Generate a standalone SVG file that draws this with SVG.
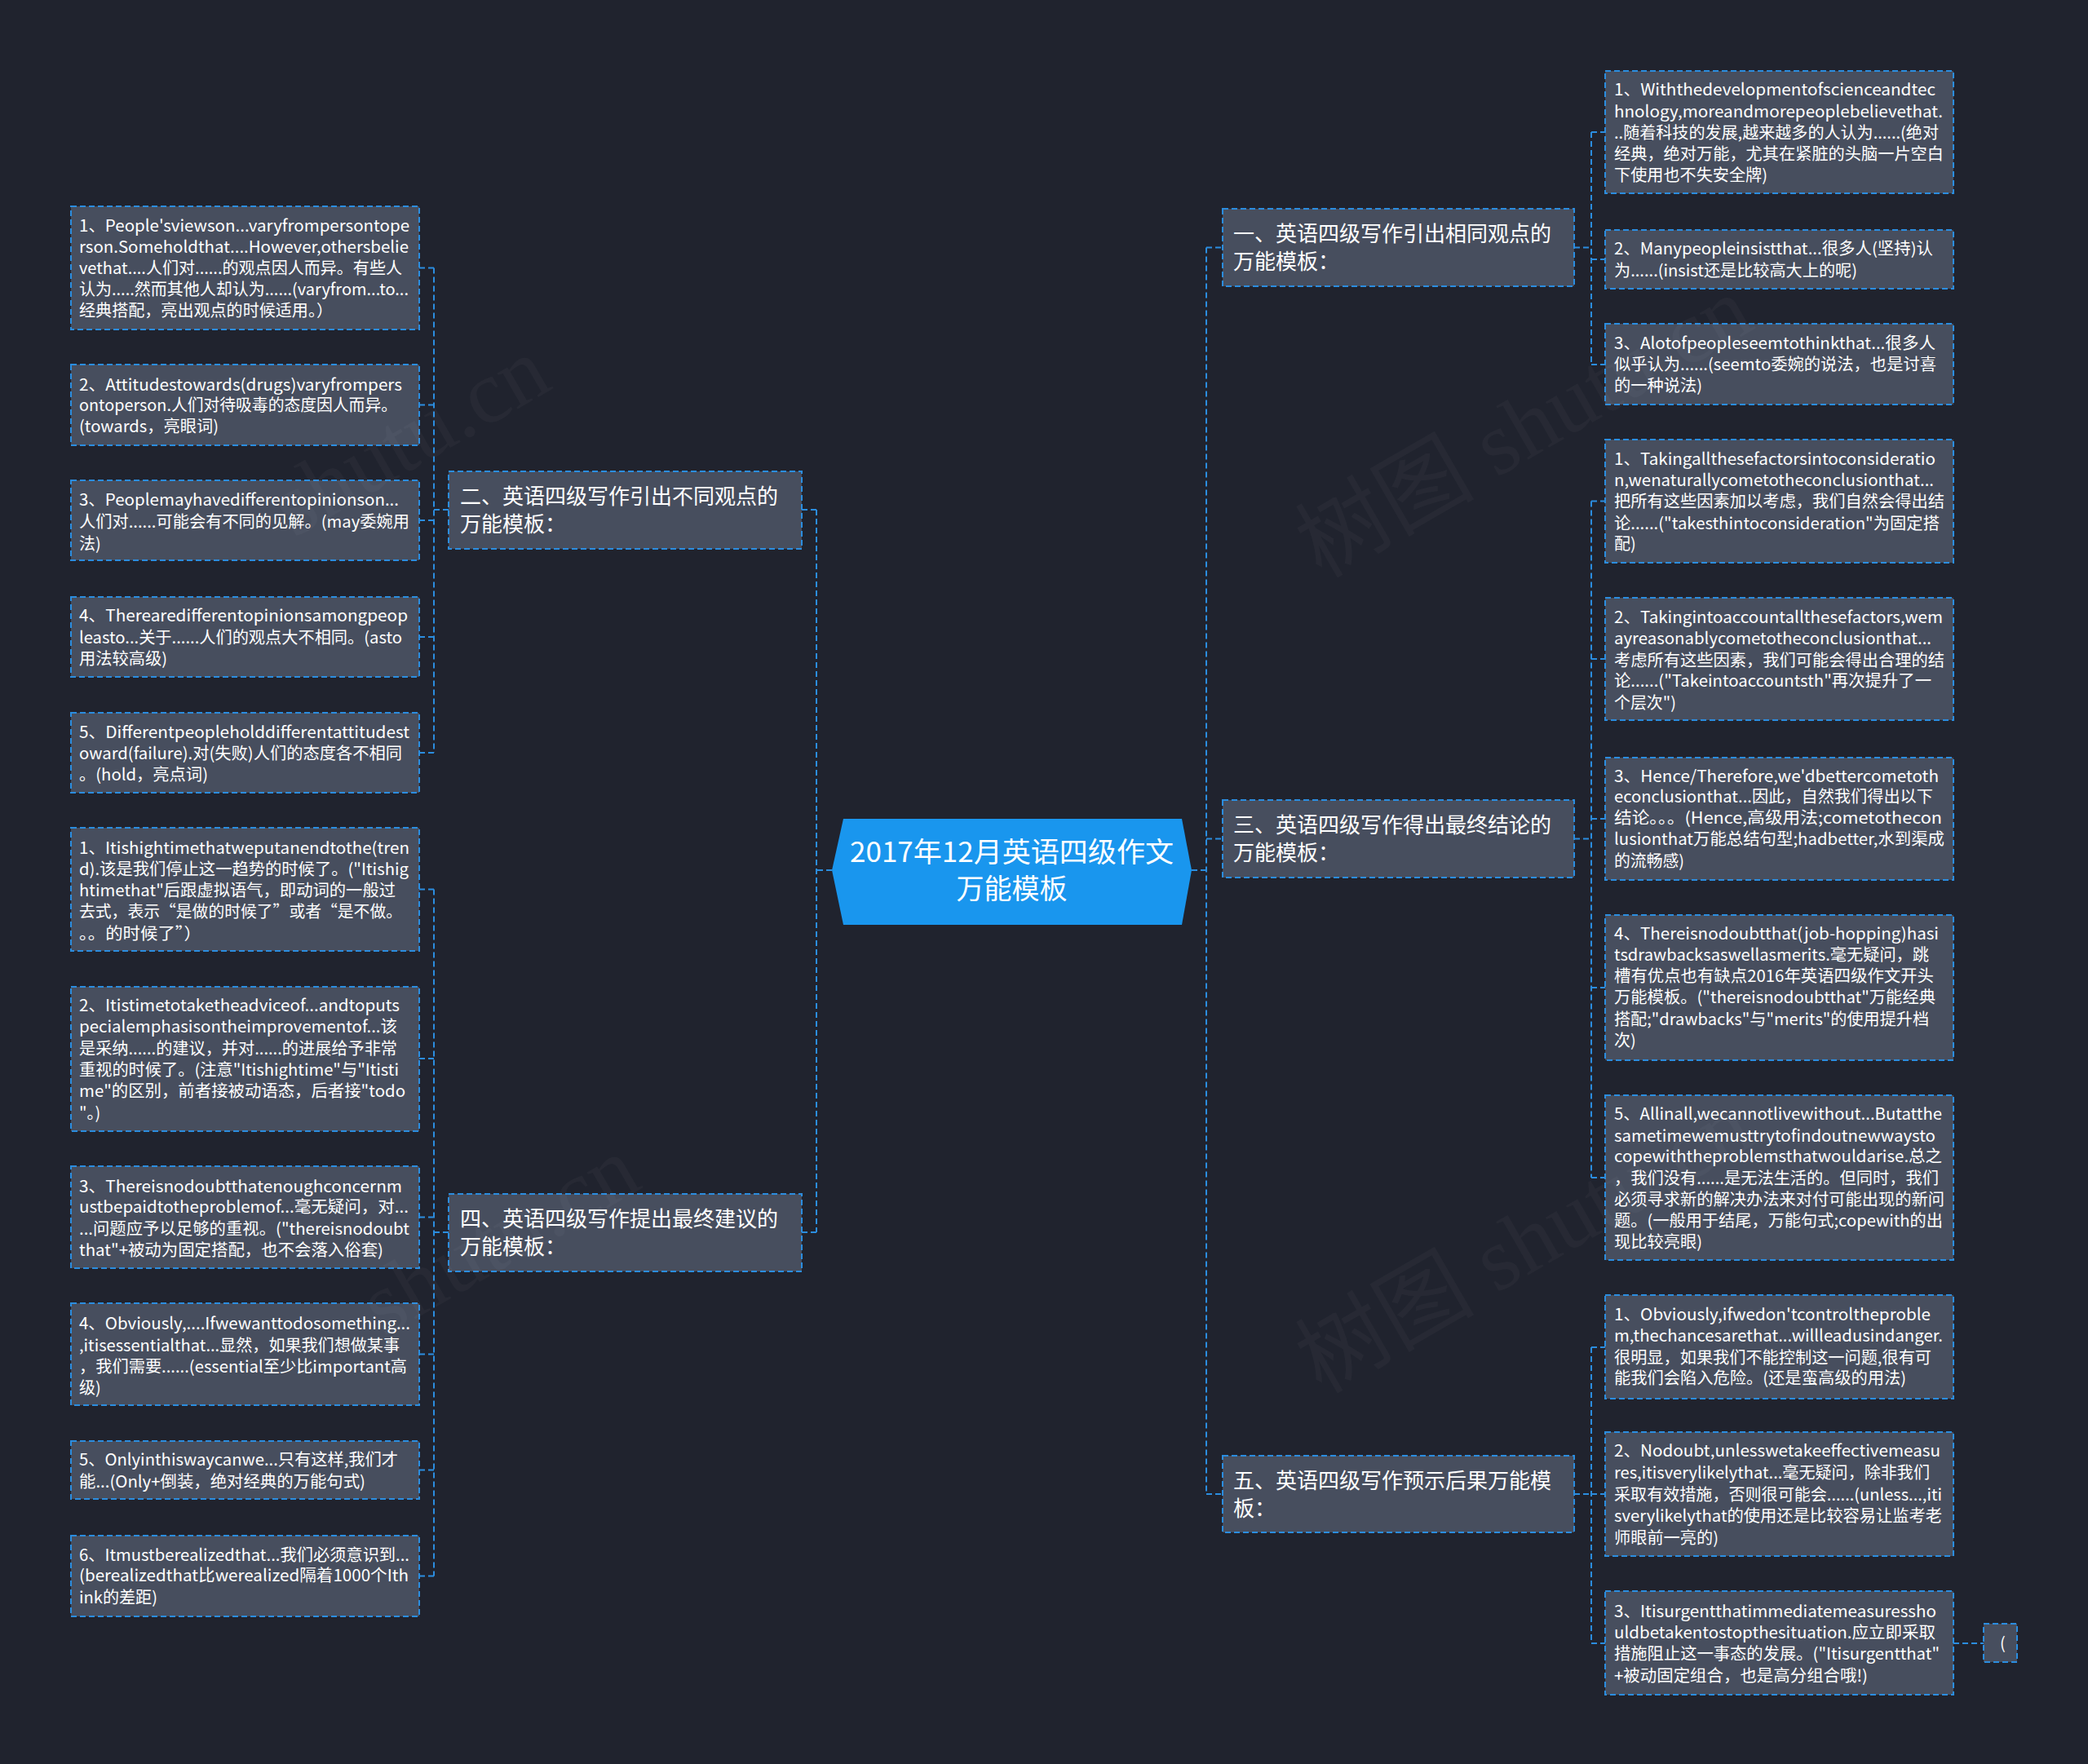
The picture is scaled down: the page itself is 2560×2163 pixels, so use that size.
<svg xmlns="http://www.w3.org/2000/svg" width="2560" height="2163" viewBox="0 0 2560 2163">
<style>
.bg{fill:#20232e}
.box{fill:#474e5e;stroke:#2b8ddf;stroke-width:2;stroke-dasharray:7 4}
.t{fill:#ffffff;font-family:"Microsoft YaHei","Noto Sans CJK SC","Noto Sans",sans-serif;font-size:20px}
.t1{fill:#ffffff;font-family:"Microsoft YaHei","Noto Sans CJK SC","Noto Sans",sans-serif;font-size:26px}
.tc{fill:#ffffff;font-family:"Microsoft YaHei","Noto Sans CJK SC","Noto Sans",sans-serif;font-size:34px;text-anchor:middle}
.conn{fill:none;stroke:#2b8ddf;stroke-width:2;stroke-dasharray:7 4}
.wm{fill:#ffffff;fill-opacity:0.03;font-family:"Liberation Serif","Noto Sans CJK SC",serif;font-size:110px}
</style>
<rect class="bg" x="0" y="0" width="2560" height="2163"/>

<g id="connectors">
  <path class="conn" d="M1020,1067 H1001 M1001,625 V1511 M983,625 H1001 M983,1511 H1001"/>
  <path class="conn" d="M1461,1067 H1479 M1479,303.5 V1832 M1479,303.5 H1499 M1479,1028.5 H1499 M1479,1832 H1499"/>
  <path class="conn" d="M550,625 H532 M532,328.5 V923 M532,328.5 H514 M532,496.5 H514 M532,638 H514 M532,781 H514 M532,923 H514"/>
  <path class="conn" d="M550,1511 H532 M532,1090.5 V1932.5 M532,1090.5 H514 M532,1298 H514 M532,1492.5 H514 M532,1660.5 H514 M532,1802.5 H514 M532,1932.5 H514"/>
  <path class="conn" d="M1930,303.5 H1951 M1951,162 V447 M1951,162 H1968 M1951,318 H1968 M1951,447 H1968"/>
  <path class="conn" d="M1930,1028.5 H1951 M1951,614.5 V1444 M1951,614.5 H1968 M1951,808 H1968 M1951,1004 H1968 M1951,1211 H1968 M1951,1444 H1968"/>
  <path class="conn" d="M1930,1832 H1951 M1951,1652 V2015 M1951,1652 H1968 M1951,1832 H1968 M1951,2015 H1968"/>
  <path class="conn" d="M2395,2015 H2432"/>
</g>

<g id="root">
  <polygon points="1020,1067 1034,1004 1449,1004 1461,1067 1449,1134 1034,1134" fill="#1996ee"/>
  <text class="tc" x="1240.5" y="1057" textLength="397" lengthAdjust="spacingAndGlyphs">2017年12月英语四级作文</text>
  <text class="tc" x="1240.5" y="1102">万能模板</text>
</g>

<g id="n1">
  <rect class="box" x="1499" y="256" width="431" height="95"/>
  <text class="t1" x="1512" y="296" textLength="390" lengthAdjust="spacingAndGlyphs">一、英语四级写作引出相同观点的</text>
  <text class="t1" x="1512" y="330">万能模板：</text>
</g>
<g id="n2">
  <rect class="box" x="550" y="578" width="433" height="95"/>
  <text class="t1" x="564" y="618" textLength="390" lengthAdjust="spacingAndGlyphs">二、英语四级写作引出不同观点的</text>
  <text class="t1" x="564" y="652">万能模板：</text>
</g>
<g id="n3">
  <rect class="box" x="1499" y="981" width="431" height="95"/>
  <text class="t1" x="1512" y="1021" textLength="390" lengthAdjust="spacingAndGlyphs">三、英语四级写作得出最终结论的</text>
  <text class="t1" x="1512" y="1055">万能模板：</text>
</g>
<g id="n4">
  <rect class="box" x="550" y="1464" width="433" height="95"/>
  <text class="t1" x="564" y="1504" textLength="390" lengthAdjust="spacingAndGlyphs">四、英语四级写作提出最终建议的</text>
  <text class="t1" x="564" y="1538">万能模板：</text>
</g>
<g id="n5">
  <rect class="box" x="1499" y="1785" width="431" height="94"/>
  <text class="t1" x="1512" y="1825" textLength="390" lengthAdjust="spacingAndGlyphs">五、英语四级写作预示后果万能模</text>
  <text class="t1" x="1512" y="1859">板：</text>
</g>

<g id="l1">
  <rect class="box" x="87" y="253" width="427" height="151"/>
  <text class="t" x="97" y="284" textLength="405" lengthAdjust="spacingAndGlyphs">1、People'sviewson...varyfrompersontope</text>
  <text class="t" x="97" y="310" textLength="404" lengthAdjust="spacingAndGlyphs">rson.Someholdthat....However,othersbelie</text>
  <text class="t" x="97" y="336" textLength="396" lengthAdjust="spacingAndGlyphs">vethat....人们对......的观点因人而异。有些人</text>
  <text class="t" x="97" y="362" textLength="404" lengthAdjust="spacingAndGlyphs">认为.....然而其他人却认为......(varyfrom...to...</text>
  <text class="t" x="97" y="388" textLength="311" lengthAdjust="spacingAndGlyphs">经典搭配，亮出观点的时候适用。）</text>
</g>
<g id="l2">
  <rect class="box" x="87" y="447" width="427" height="99"/>
  <text class="t" x="97" y="479" textLength="396" lengthAdjust="spacingAndGlyphs">2、Attitudestowards(drugs)varyfrompers</text>
  <text class="t" x="97" y="504" textLength="390" lengthAdjust="spacingAndGlyphs">ontoperson.人们对待吸毒的态度因人而异。</text>
  <text class="t" x="97" y="530" textLength="171" lengthAdjust="spacingAndGlyphs">(towards，亮眼词)</text>
</g>
<g id="l3">
  <rect class="box" x="87" y="589" width="427" height="98"/>
  <text class="t" x="97" y="620" textLength="392" lengthAdjust="spacingAndGlyphs">3、Peoplemayhavedifferentopinionson...</text>
  <text class="t" x="97" y="647" textLength="405" lengthAdjust="spacingAndGlyphs">人们对......可能会有不同的见解。(may委婉用</text>
  <text class="t" x="97" y="674">法)</text>
</g>
<g id="l4">
  <rect class="box" x="87" y="732" width="427" height="98"/>
  <text class="t" x="97" y="762" textLength="403" lengthAdjust="spacingAndGlyphs">4、Therearedifferentopinionsamongpeop</text>
  <text class="t" x="97" y="789" textLength="396" lengthAdjust="spacingAndGlyphs">leasto...关于......人们的观点大不相同。(asto</text>
  <text class="t" x="97" y="815" textLength="108" lengthAdjust="spacingAndGlyphs">用法较高级)</text>
</g>
<g id="l5">
  <rect class="box" x="87" y="874" width="427" height="98"/>
  <text class="t" x="97" y="905" textLength="405" lengthAdjust="spacingAndGlyphs">5、Differentpeopleholddifferentattitudest</text>
  <text class="t" x="97" y="931" textLength="396" lengthAdjust="spacingAndGlyphs">oward(failure).对(失败)人们的态度各不相同</text>
  <text class="t" x="97" y="957" textLength="158" lengthAdjust="spacingAndGlyphs">。(hold，亮点词)</text>
</g>
<g id="l6">
  <rect class="box" x="87" y="1015" width="427" height="151"/>
  <text class="t" x="97" y="1047" textLength="405" lengthAdjust="spacingAndGlyphs">1、Itishightimethatweputanendtothe(tren</text>
  <text class="t" x="97" y="1073" textLength="404" lengthAdjust="spacingAndGlyphs">d).该是我们停止这一趋势的时候了。("Itishig</text>
  <text class="t" x="97" y="1099" textLength="388" lengthAdjust="spacingAndGlyphs">htimethat"后跟虚拟语气，即动词的一般过</text>
  <text class="t" x="97" y="1125" textLength="396" lengthAdjust="spacingAndGlyphs">去式，表示“是做的时候了”或者“是不做。</text>
  <text class="t" x="97" y="1152" textLength="150" lengthAdjust="spacingAndGlyphs">。。的时候了”）</text>
</g>
<g id="l7">
  <rect class="box" x="87" y="1210" width="427" height="177"/>
  <text class="t" x="97" y="1240" textLength="393" lengthAdjust="spacingAndGlyphs">2、Itistimetotaketheadviceof...andtoputs</text>
  <text class="t" x="97" y="1266" textLength="390" lengthAdjust="spacingAndGlyphs">pecialemphasisontheimprovementof...该</text>
  <text class="t" x="97" y="1293" textLength="390" lengthAdjust="spacingAndGlyphs">是采纳......的建议，并对......的进展给予非常</text>
  <text class="t" x="97" y="1319" textLength="392" lengthAdjust="spacingAndGlyphs">重视的时候了。(注意"Itishightime"与"Itisti</text>
  <text class="t" x="97" y="1345" textLength="400" lengthAdjust="spacingAndGlyphs">me"的区别，前者接被动语态，后者接"todo</text>
  <text class="t" x="97" y="1372">"。)</text>
</g>
<g id="l8">
  <rect class="box" x="87" y="1430" width="427" height="125"/>
  <text class="t" x="97" y="1462" textLength="396" lengthAdjust="spacingAndGlyphs">3、Thereisnodoubtthatenoughconcernm</text>
  <text class="t" x="97" y="1487" textLength="404" lengthAdjust="spacingAndGlyphs">ustbepaidtotheproblemof...毫无疑问，对...</text>
  <text class="t" x="97" y="1514" textLength="405" lengthAdjust="spacingAndGlyphs">...问题应予以足够的重视。("thereisnodoubt</text>
  <text class="t" x="97" y="1540" textLength="373" lengthAdjust="spacingAndGlyphs">that"+被动为固定搭配，也不会落入俗套)</text>
</g>
<g id="l9">
  <rect class="box" x="87" y="1598" width="427" height="125"/>
  <text class="t" x="97" y="1630" textLength="406" lengthAdjust="spacingAndGlyphs">4、Obviously,....Ifwewanttodosomething...</text>
  <text class="t" x="97" y="1657" textLength="393" lengthAdjust="spacingAndGlyphs">,itisessentialthat...显然，如果我们想做某事</text>
  <text class="t" x="97" y="1683" textLength="402" lengthAdjust="spacingAndGlyphs">，我们需要......(essential至少比important高</text>
  <text class="t" x="97" y="1709">级)</text>
</g>
<g id="l10">
  <rect class="box" x="87" y="1767" width="427" height="71"/>
  <text class="t" x="97" y="1797" textLength="391" lengthAdjust="spacingAndGlyphs">5、Onlyinthiswaycanwe...只有这样,我们才</text>
  <text class="t" x="97" y="1824" textLength="351" lengthAdjust="spacingAndGlyphs">能...(Only+倒装，绝对经典的万能句式)</text>
</g>
<g id="l11">
  <rect class="box" x="87" y="1883" width="427" height="99"/>
  <text class="t" x="97" y="1914" textLength="405" lengthAdjust="spacingAndGlyphs">6、Itmustberealizedthat...我们必须意识到...</text>
  <text class="t" x="97" y="1939" textLength="404" lengthAdjust="spacingAndGlyphs">(berealizedthat比werealized隔着1000个Ith</text>
  <text class="t" x="97" y="1966" textLength="96" lengthAdjust="spacingAndGlyphs">ink的差距)</text>
</g>

<g id="r1">
  <rect class="box" x="1968" y="87" width="427" height="150"/>
  <text class="t" x="1979" y="117" textLength="394" lengthAdjust="spacingAndGlyphs">1、Withthedevelopmentofscienceandtec</text>
  <text class="t" x="1979" y="144" textLength="403" lengthAdjust="spacingAndGlyphs">hnology,moreandmorepeoplebelievethat.</text>
  <text class="t" x="1979" y="170" textLength="398" lengthAdjust="spacingAndGlyphs">..随着科技的发展,越来越多的人认为......(绝对</text>
  <text class="t" x="1979" y="196" textLength="404" lengthAdjust="spacingAndGlyphs">经典，绝对万能，尤其在紧脏的头脑一片空白</text>
  <text class="t" x="1979" y="222" textLength="188" lengthAdjust="spacingAndGlyphs">下使用也不失安全牌)</text>
</g>
<g id="r2">
  <rect class="box" x="1968" y="282" width="427" height="72"/>
  <text class="t" x="1979" y="312" textLength="391" lengthAdjust="spacingAndGlyphs">2、Manypeopleinsistthat...很多人(坚持)认</text>
  <text class="t" x="1979" y="339" textLength="298" lengthAdjust="spacingAndGlyphs">为......(insist还是比较高大上的呢)</text>
</g>
<g id="r3">
  <rect class="box" x="1968" y="397" width="427" height="99"/>
  <text class="t" x="1979" y="428" textLength="394" lengthAdjust="spacingAndGlyphs">3、Alotofpeopleseemtothinkthat...很多人</text>
  <text class="t" x="1979" y="454" textLength="395" lengthAdjust="spacingAndGlyphs">似乎认为......(seemto委婉的说法，也是讨喜</text>
  <text class="t" x="1979" y="480" textLength="108" lengthAdjust="spacingAndGlyphs">的一种说法)</text>
</g>
<g id="r4">
  <rect class="box" x="1968" y="539" width="427" height="151"/>
  <text class="t" x="1979" y="570" textLength="394" lengthAdjust="spacingAndGlyphs">1、Takingallthesefactorsintoconsideratio</text>
  <text class="t" x="1979" y="596" textLength="392" lengthAdjust="spacingAndGlyphs">n,wenaturallycometotheconclusionthat...</text>
  <text class="t" x="1979" y="622" textLength="405" lengthAdjust="spacingAndGlyphs">把所有这些因素加以考虑，我们自然会得出结</text>
  <text class="t" x="1979" y="649" textLength="399" lengthAdjust="spacingAndGlyphs">论......("takesthintoconsideration"为固定搭</text>
  <text class="t" x="1979" y="674">配)</text>
</g>
<g id="r5">
  <rect class="box" x="1968" y="733" width="427" height="150"/>
  <text class="t" x="1979" y="764" textLength="403" lengthAdjust="spacingAndGlyphs">2、Takingintoaccountallthesefactors,wem</text>
  <text class="t" x="1979" y="790" textLength="389" lengthAdjust="spacingAndGlyphs">ayreasonablycometotheconclusionthat...</text>
  <text class="t" x="1979" y="817" textLength="405" lengthAdjust="spacingAndGlyphs">考虑所有这些因素，我们可能会得出合理的结</text>
  <text class="t" x="1979" y="842" textLength="389" lengthAdjust="spacingAndGlyphs">论......("Takeintoaccountsth"再次提升了一</text>
  <text class="t" x="1979" y="869" textLength="76" lengthAdjust="spacingAndGlyphs">个层次")</text>
</g>
<g id="r6">
  <rect class="box" x="1968" y="929" width="427" height="150"/>
  <text class="t" x="1979" y="959" textLength="398" lengthAdjust="spacingAndGlyphs">3、Hence/Therefore,we'dbettercometoth</text>
  <text class="t" x="1979" y="984" textLength="391" lengthAdjust="spacingAndGlyphs">econclusionthat...因此，自然我们得出以下</text>
  <text class="t" x="1979" y="1010" textLength="402" lengthAdjust="spacingAndGlyphs">结论。。。(Hence,高级用法;cometothecon</text>
  <text class="t" x="1979" y="1036" textLength="405" lengthAdjust="spacingAndGlyphs">lusionthat万能总结句型;hadbetter,水到渠成</text>
  <text class="t" x="1979" y="1063" textLength="86" lengthAdjust="spacingAndGlyphs">的流畅感)</text>
</g>
<g id="r7">
  <rect class="box" x="1968" y="1122" width="427" height="178"/>
  <text class="t" x="1979" y="1152" textLength="398" lengthAdjust="spacingAndGlyphs">4、Thereisnodoubtthat(job-hopping)hasi</text>
  <text class="t" x="1979" y="1178" textLength="386" lengthAdjust="spacingAndGlyphs">tsdrawbacksaswellasmerits.毫无疑问，跳</text>
  <text class="t" x="1979" y="1204" textLength="392" lengthAdjust="spacingAndGlyphs">槽有优点也有缺点2016年英语四级作文开头</text>
  <text class="t" x="1979" y="1230" textLength="394" lengthAdjust="spacingAndGlyphs">万能模板。("thereisnodoubtthat"万能经典</text>
  <text class="t" x="1979" y="1257" textLength="386" lengthAdjust="spacingAndGlyphs">搭配;"drawbacks"与"merits"的使用提升档</text>
  <text class="t" x="1979" y="1283">次)</text>
</g>
<g id="r8">
  <rect class="box" x="1968" y="1343" width="427" height="202"/>
  <text class="t" x="1979" y="1373" textLength="402" lengthAdjust="spacingAndGlyphs">5、Allinall,wecannotlivewithout...Butatthe</text>
  <text class="t" x="1979" y="1400" textLength="394" lengthAdjust="spacingAndGlyphs">sametimewemusttrytofindoutnewwaysto</text>
  <text class="t" x="1979" y="1425" textLength="402" lengthAdjust="spacingAndGlyphs">copewiththeproblemsthatwouldarise.总之</text>
  <text class="t" x="1979" y="1452" textLength="398" lengthAdjust="spacingAndGlyphs">，我们没有......是无法生活的。但同时，我们</text>
  <text class="t" x="1979" y="1478" textLength="405" lengthAdjust="spacingAndGlyphs">必须寻求新的解决办法来对付可能出现的新问</text>
  <text class="t" x="1979" y="1504" textLength="403" lengthAdjust="spacingAndGlyphs">题。(一般用于结尾，万能句式;copewith的出</text>
  <text class="t" x="1979" y="1530" textLength="108" lengthAdjust="spacingAndGlyphs">现比较亮眼)</text>
</g>
<g id="r9">
  <rect class="box" x="1968" y="1588" width="427" height="127"/>
  <text class="t" x="1979" y="1619" textLength="388" lengthAdjust="spacingAndGlyphs">1、Obviously,ifwedon'tcontroltheproble</text>
  <text class="t" x="1979" y="1645" textLength="403" lengthAdjust="spacingAndGlyphs">m,thechancesarethat...willleadusindanger.</text>
  <text class="t" x="1979" y="1672" textLength="389" lengthAdjust="spacingAndGlyphs">很明显，如果我们不能控制这一问题,很有可</text>
  <text class="t" x="1979" y="1697" textLength="358" lengthAdjust="spacingAndGlyphs">能我们会陷入危险。(还是蛮高级的用法)</text>
</g>
<g id="r10">
  <rect class="box" x="1968" y="1756" width="427" height="152"/>
  <text class="t" x="1979" y="1786" textLength="400" lengthAdjust="spacingAndGlyphs">2、Nodoubt,unlesswetakeeffectivemeasu</text>
  <text class="t" x="1979" y="1813" textLength="387" lengthAdjust="spacingAndGlyphs">res,itisverylikelythat...毫无疑问，除非我们</text>
  <text class="t" x="1979" y="1840" textLength="402" lengthAdjust="spacingAndGlyphs">采取有效措施，否则很可能会......(unless...,iti</text>
  <text class="t" x="1979" y="1866" textLength="402" lengthAdjust="spacingAndGlyphs">sverylikelythat的使用还是比较容易让监考老</text>
  <text class="t" x="1979" y="1893" textLength="128" lengthAdjust="spacingAndGlyphs">师眼前一亮的)</text>
</g>
<g id="r11">
  <rect class="box" x="1968" y="1951" width="427" height="127"/>
  <text class="t" x="1979" y="1983" textLength="395" lengthAdjust="spacingAndGlyphs">3、Itisurgentthatimmediatemeasuressho</text>
  <text class="t" x="1979" y="2009" textLength="394" lengthAdjust="spacingAndGlyphs">uldbetakentostopthesituation.应立即采取</text>
  <text class="t" x="1979" y="2035" textLength="399" lengthAdjust="spacingAndGlyphs">措施阻止这一事态的发展。("Itisurgentthat"</text>
  <text class="t" x="1979" y="2062" textLength="311" lengthAdjust="spacingAndGlyphs">+被动固定组合，也是高分组合哦!)</text>
</g>
<g id="r12">
  <rect class="box" x="2432" y="1991" width="41" height="47"/>
  <text class="t" x="2452" y="2022">(</text>
</g>

<g id="watermark">
  <text class="wm" x="360" y="660" transform="rotate(-30 360 660)">shutu.cn</text>
  <text class="wm" x="1620" y="710" transform="rotate(-30 1620 710)">树图 shutu.cn</text>
  <text class="wm" x="470" y="1640" transform="rotate(-30 470 1640)">shutu.cn</text>
  <text class="wm" x="1620" y="1710" transform="rotate(-30 1620 1710)">树图 shutu.cn</text>
</g>
</svg>
